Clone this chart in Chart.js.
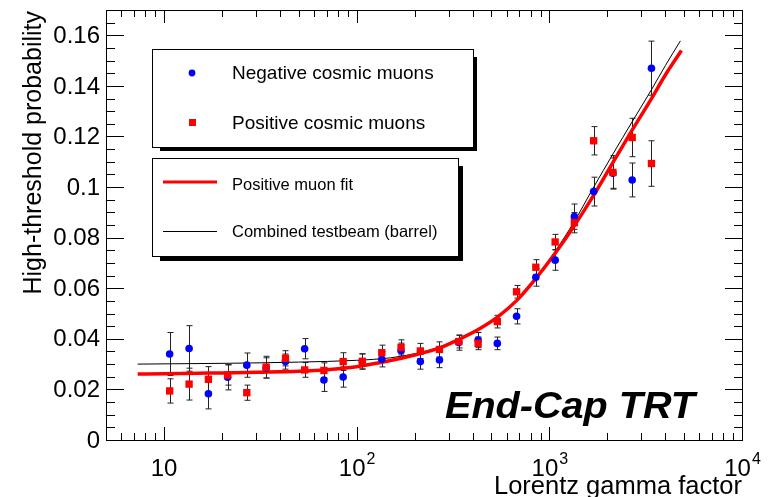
<!DOCTYPE html>
<html>
<head>
<meta charset="utf-8">
<script src="https://cdn.jsdelivr.net/npm/chart.js@4.4.1/dist/chart.umd.min.js"></script>
<style>
  html, body { margin: 0; padding: 0; background: #fff; }
  canvas { display: block; }
</style>
</head>
<body>
<canvas id="chart" width="773" height="497"></canvas>
<script>
// Lorentz gamma bins (log spaced) used by both muon samples
const gammaValues = [10.7, 13.5, 17.0, 21.4, 26.9, 33.9, 42.7, 53.7, 67.6, 85.1, 107, 135, 170,
  214, 269, 339, 427, 537, 676, 851, 1072, 1349, 1698, 2138, 2692, 3389];

// negative cosmic muons (blue circles)
const negValues = [0.0340, 0.0362, 0.0183, 0.0248, 0.0296, 0.0285, 0.0310, 0.0361, 0.0237, 0.0249, 0.0310, 0.0319, 0.0353,
  0.0310, 0.0316, 0.0385, 0.0395, 0.0382, 0.0489, 0.0643, 0.0711, 0.0883, 0.0982, 0.1055, 0.1028, 0.1470];
const negErrors = [0.0085, 0.0090, 0.0060, 0.0050, 0.0048, 0.0040, 0.0030, 0.0040, 0.0045, 0.0040, 0.0030, 0.0030, 0.0030,
  0.0030, 0.0030, 0.0030, 0.0030, 0.0025, 0.0030, 0.0035, 0.0040, 0.0050, 0.0057, 0.0060, 0.0067, 0.0107];

// positive cosmic muons (red squares)
const posValues = [0.0194, 0.0221, 0.0240, 0.0257, 0.0187, 0.0288, 0.0323, 0.0277, 0.0275, 0.0310, 0.0311, 0.0345, 0.0366,
  0.0352, 0.0358, 0.0389, 0.0382, 0.0468, 0.0586, 0.0683, 0.0783, 0.0859, 0.1183, 0.1058, 0.1196, 0.1093];
const posErrors = [0.0048, 0.0063, 0.0050, 0.0040, 0.0030, 0.0043, 0.0030, 0.0029, 0.0030, 0.0035, 0.0030, 0.0030, 0.0030,
  0.0030, 0.0030, 0.0025, 0.0025, 0.0025, 0.0025, 0.0030, 0.0030, 0.0040, 0.0056, 0.0066, 0.0076, 0.0090];

// positive muon fit (red curve)
const fitGamma = [7.3, 10, 15, 20, 30, 50, 70, 100, 150, 200, 270, 340, 430, 540, 680, 850, 1070, 1350, 1700, 2140, 2690, 3390, 4000, 4850];
const fitValues = [0.0261, 0.0262, 0.0264, 0.0265, 0.0268, 0.0272, 0.0278, 0.0290, 0.0314, 0.0336, 0.0364, 0.0398, 0.0438, 0.0487,
  0.0553, 0.0638, 0.0737, 0.0848, 0.0968, 0.1098, 0.1225, 0.1350, 0.1443, 0.1540];

// combined testbeam (barrel) curve (black)
const beamGamma = [7.3, 10, 20, 50, 100, 150, 200, 270, 340, 430, 540, 680, 850, 1070, 1350, 1700, 2140, 2690, 3390, 4000, 4790];
const beamValues = [0.0300, 0.0301, 0.0303, 0.0308, 0.0315, 0.0325, 0.0341, 0.0368, 0.0402, 0.0441, 0.0489, 0.0555, 0.0642,
  0.0745, 0.0865, 0.1000, 0.1131, 0.1258, 0.1385, 0.1480, 0.1578];

// axis ticks
const yTickValues = [0, 0.02, 0.04, 0.06, 0.08, 0.1, 0.12, 0.14, 0.16];
const yTickLabels = ['0', '0.02', '0.04', '0.06', '0.08', '0.1', '0.12', '0.14', '0.16'];
const xTickValues = [10, 100, 1000, 10000];
const xTickExponents = ['', '2', '3', '4'];

const FONT = "'Liberation Sans', Arial, Helvetica, sans-serif";

const toPoints = (xs, ys) => xs.map((x, i) => ({ x: x, y: ys[i] }));

// error bars under the markers
const errorBars = {
  id: 'errorBars',
  beforeDatasetsDraw(chart) {
    const { ctx, scales: { x, y } } = chart;
    ctx.save();
    ctx.strokeStyle = '#222';
    ctx.lineWidth = 1;
    const draw = (vals, errs) => {
      gammaValues.forEach((g, i) => {
        const px = Math.round(x.getPixelForValue(g)) + 0.5;
        const top = y.getPixelForValue(vals[i] + errs[i]);
        const bot = y.getPixelForValue(vals[i] - errs[i]);
        ctx.beginPath();
        ctx.moveTo(px, top); ctx.lineTo(px, bot);
        ctx.moveTo(px - 3, top); ctx.lineTo(px + 3, top);
        ctx.moveTo(px - 3, bot); ctx.lineTo(px + 3, bot);
        ctx.stroke();
      });
    };
    draw(negValues, negErrors);
    draw(posValues, posErrors);
    ctx.restore();
  }
};

// ROOT style frame, ticks, labels, legends
const decorations = {
  id: 'decorations',
  afterDraw(chart) {
    const { ctx, chartArea: a, scales: { x, y } } = chart;
    ctx.save();
    ctx.strokeStyle = '#000';
    ctx.fillStyle = '#000';
    ctx.lineWidth = 1;

    // frame
    ctx.strokeRect(Math.round(a.left) + 0.5, Math.round(a.top) + 0.5,
      Math.round(a.right - a.left), Math.round(a.bottom - a.top));

    ctx.beginPath();
    // y ticks, both sides
    for (let k = 0; k <= 34; k++) {
      const v = k * 0.005;
      const py = Math.round(y.getPixelForValue(v)) + 0.5;
      const major = k % 4 === 0;
      ctx.moveTo(a.left, py); ctx.lineTo(a.left + (major ? 18 : 9), py);
      ctx.moveTo(a.right, py); ctx.lineTo(a.right - (major ? 17 : 8), py);
    }
    // x ticks, both sides
    for (let e = 0; e <= 3; e++) {
      for (let m = 1; m <= 9; m++) {
        const v = m * Math.pow(10, e);
        if (v < 5 || v > 10000) continue;
        const px = Math.round(x.getPixelForValue(v)) + 0.5;
        const len = m === 1 ? 13 : 7;
        ctx.moveTo(px, a.bottom); ctx.lineTo(px, a.bottom - len);
        ctx.moveTo(px, a.top); ctx.lineTo(px, a.top + len);
      }
    }
    ctx.stroke();

    // y tick labels
    ctx.font = '24px ' + FONT;
    ctx.textAlign = 'right';
    ctx.textBaseline = 'middle';
    yTickValues.forEach((v, i) => {
      ctx.fillText(yTickLabels[i], 100, y.getPixelForValue(v) + 1);
    });

    // x tick labels with superscript exponents
    ctx.textBaseline = 'alphabetic';
    xTickValues.forEach((v, i) => {
      const px = x.getPixelForValue(v);
      ctx.font = '24px ' + FONT;
      const baseW = ctx.measureText('10').width;
      ctx.font = '16px ' + FONT;
      const supW = xTickExponents[i] ? ctx.measureText(xTickExponents[i]).width : 0;
      const start = px - (baseW + supW) / 2;
      ctx.textAlign = 'left';
      ctx.font = '24px ' + FONT;
      ctx.fillText('10', start, 476);
      if (supW) {
        ctx.font = '16px ' + FONT;
        ctx.fillText(xTickExponents[i], start + baseW + 1, 464);
      }
    });

    // axis titles
    ctx.font = '25.5px ' + FONT;
    ctx.textAlign = 'right';
    ctx.fillText('Lorentz gamma factor', a.right, 494);
    ctx.save();
    ctx.translate(41, a.top + 1);
    ctx.rotate(-Math.PI / 2);
    ctx.textAlign = 'right';
    ctx.font = '25px ' + FONT;
    ctx.fillText('High-threshold probability', 0, 0);
    ctx.restore();

    // legend boxes with shadow
    const box = (x0, y0, x1, y1, sh) => {
      ctx.fillStyle = '#000';
      ctx.fillRect(x0 + 8, y0 + 8, x1 - x0 + sh - 8, y1 - y0 + sh - 8);
      ctx.fillStyle = '#fff';
      ctx.fillRect(x0, y0, x1 - x0, y1 - y0);
      ctx.strokeRect(x0 + 0.5, y0 + 0.5, x1 - x0, y1 - y0);
    };
    box(152, 49, 473, 147, 4);
    box(152, 158, 458, 256, 5);

    ctx.fillStyle = '#0000ff';
    ctx.beginPath();
    ctx.arc(192, 73, 3.4, 0, Math.PI * 2);
    ctx.fill();
    ctx.fillStyle = '#ff0000';
    ctx.fillRect(189, 119, 7, 7);

    ctx.strokeStyle = '#ff0000';
    ctx.lineWidth = 3;
    ctx.beginPath(); ctx.moveTo(163, 182); ctx.lineTo(217, 182); ctx.stroke();
    ctx.strokeStyle = '#000';
    ctx.lineWidth = 1;
    ctx.beginPath(); ctx.moveTo(163, 231.5); ctx.lineTo(217, 231.5); ctx.stroke();

    ctx.fillStyle = '#000';
    ctx.textAlign = 'left';
    ctx.font = '19px ' + FONT;
    ctx.fillText('Negative cosmic muons', 232, 79);
    ctx.fillText('Positive cosmic muons', 232, 129);
    ctx.font = '16.5px ' + FONT;
    ctx.fillText('Positive muon fit', 232, 190);
    ctx.fillText('Combined testbeam (barrel)', 232, 237);

    // detector label, slightly stretched like the original
    ctx.save();
    ctx.translate(445, 418);
    ctx.scale(1.07, 1);
    ctx.font = 'italic bold 37px ' + FONT;
    ctx.fillText('End-Cap TRT', 0, 0);
    ctx.restore();

    ctx.restore();
  }
};

new Chart(document.getElementById('chart').getContext('2d'), {
  type: 'scatter',
  data: {
    datasets: [
      {
        label: 'Negative cosmic muons',
        data: toPoints(gammaValues, negValues),
        pointStyle: 'circle',
        pointRadius: 3.8,
        backgroundColor: '#0000ff',
        borderWidth: 0,
        order: 1
      },
      {
        label: 'Positive cosmic muons',
        data: toPoints(gammaValues, posValues),
        pointStyle: 'rect',
        pointRadius: 5.2,
        backgroundColor: '#ff0000',
        borderWidth: 0,
        order: 0
      },
      {
        type: 'line',
        label: 'Positive muon fit',
        data: toPoints(fitGamma, fitValues),
        borderColor: '#ff0000',
        borderWidth: 3.5,
        pointRadius: 0,
        fill: false,
        cubicInterpolationMode: 'monotone',
        order: 2
      },
      {
        type: 'line',
        label: 'Combined testbeam (barrel)',
        data: toPoints(beamGamma, beamValues),
        borderColor: '#000',
        borderWidth: 1,
        pointRadius: 0,
        fill: false,
        cubicInterpolationMode: 'monotone',
        order: 3
      }
    ]
  },
  options: {
    responsive: false,
    animation: false,
    layout: { padding: { left: 106, right: 31, top: 10, bottom: 57 } },
    plugins: { legend: { display: false }, tooltip: { enabled: false } },
    scales: {
      x: { type: 'logarithmic', min: 5, max: 10000, display: false },
      y: { type: 'linear', min: 0, max: 0.17, display: false }
    }
  },
  plugins: [errorBars, decorations]
});
</script>
</body>
</html>
